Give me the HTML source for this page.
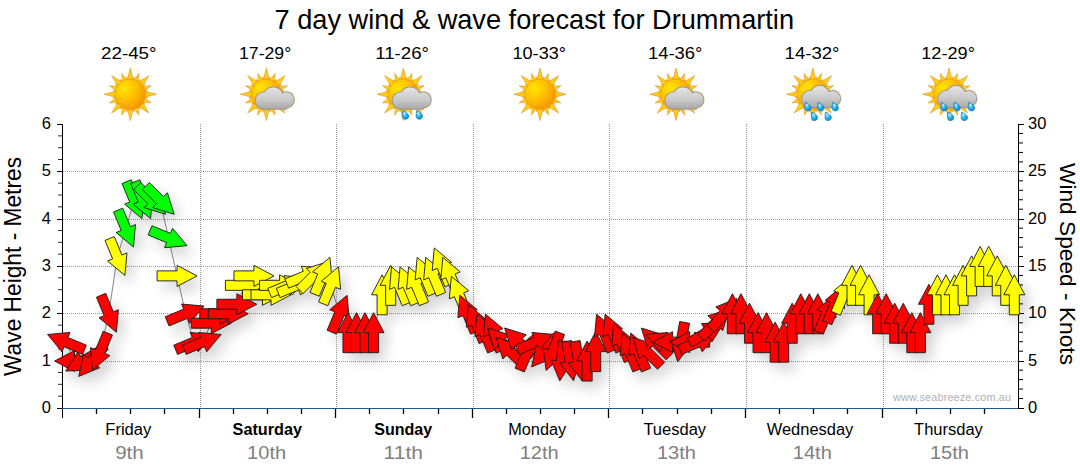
<!DOCTYPE html><html><head><meta charset="utf-8"><style>html,body{margin:0;padding:0;background:#fff;overflow:hidden}svg{display:block}text{font-family:"Liberation Sans",sans-serif}</style></head><body>
<svg width="1080" height="475" viewBox="0 0 1080 475">
<defs>
<filter id="sh" x="-10%" y="-10%" width="120%" height="120%"><feGaussianBlur in="SourceAlpha" stdDeviation="6.5"/><feOffset dx="6" dy="8" result="b"/><feComponentTransfer><feFuncA type="linear" slope="0.17"/></feComponentTransfer><feMerge><feMergeNode/><feMergeNode in="SourceGraphic"/></feMerge></filter>
<radialGradient id="sunG" cx="0.3" cy="0.3" r="0.8"><stop offset="0" stop-color="#ffe600"/><stop offset="0.5" stop-color="#ffbf00"/><stop offset="1" stop-color="#f39000"/></radialGradient>
<linearGradient id="rayG" x1="0" y1="0" x2="1" y2="1"><stop offset="0" stop-color="#ffd84a"/><stop offset="1" stop-color="#f0a020"/></linearGradient>
<linearGradient id="cloudG" x1="0" y1="0" x2="0" y2="1"><stop offset="0" stop-color="#eeeeee"/><stop offset="0.6" stop-color="#c8c8c8"/><stop offset="1" stop-color="#a8a8a8"/></linearGradient>
<radialGradient id="dropG" cx="0.35" cy="0.35" r="0.7"><stop offset="0" stop-color="#c8f4ff"/><stop offset="0.45" stop-color="#30b8f0"/><stop offset="1" stop-color="#0a8ad0"/></radialGradient>
</defs>
<text x="274.5" y="29.2" font-size="28" textLength="519.5" lengthAdjust="spacingAndGlyphs" fill="#000">7 day wind &amp; wave forecast for Drummartin</text>
<text x="101.0" y="58.9" font-size="16.5" textLength="55.6" lengthAdjust="spacingAndGlyphs" fill="#000">22-45°</text>
<text x="239.0" y="58.9" font-size="16.5" textLength="52.2" lengthAdjust="spacingAndGlyphs" fill="#000">17-29°</text>
<text x="375.2" y="58.9" font-size="16.5" textLength="53.8" lengthAdjust="spacingAndGlyphs" fill="#000">11-26°</text>
<text x="512.5" y="58.9" font-size="16.5" textLength="53.5" lengthAdjust="spacingAndGlyphs" fill="#000">10-33°</text>
<text x="647.9" y="58.9" font-size="16.5" textLength="54.5" lengthAdjust="spacingAndGlyphs" fill="#000">14-36°</text>
<text x="784.6" y="58.9" font-size="16.5" textLength="54.9" lengthAdjust="spacingAndGlyphs" fill="#000">14-32°</text>
<text x="921.3" y="58.9" font-size="16.5" textLength="53.6" lengthAdjust="spacingAndGlyphs" fill="#000">12-29°</text>
<polygon points="130.30,68.00 133.60,81.30 127.00,81.30" fill="#ffcc10" stroke="#e0941c" stroke-width="0.6" stroke-linejoin="round"/><polygon points="133.77,76.84 134.60,81.90 131.07,81.20" fill="#ffcc10" stroke="#e0941c" stroke-width="0.6" stroke-linejoin="round"/><polygon points="138.91,73.51 137.86,83.36 132.69,81.22" fill="#ffcc10" stroke="#e0941c" stroke-width="0.6" stroke-linejoin="round"/><polygon points="140.19,79.50 139.02,84.49 136.03,82.49" fill="#ffcc10" stroke="#e0941c" stroke-width="0.6" stroke-linejoin="round"/><polygon points="148.90,75.70 141.83,87.44 137.16,82.77" fill="#ffcc10" stroke="#e0941c" stroke-width="0.6" stroke-linejoin="round"/><polygon points="145.10,84.41 142.11,88.57 140.11,85.58" fill="#ffcc10" stroke="#e0941c" stroke-width="0.6" stroke-linejoin="round"/><polygon points="151.09,85.69 143.38,91.91 141.24,86.74" fill="#ffcc10" stroke="#e0941c" stroke-width="0.6" stroke-linejoin="round"/><polygon points="147.76,90.83 143.40,93.53 142.70,90.00" fill="#ffcc10" stroke="#e0941c" stroke-width="0.6" stroke-linejoin="round"/><polygon points="156.60,94.30 143.30,97.60 143.30,91.00" fill="#ffcc10" stroke="#e0941c" stroke-width="0.6" stroke-linejoin="round"/><polygon points="147.76,97.77 142.70,98.60 143.40,95.07" fill="#ffcc10" stroke="#e0941c" stroke-width="0.6" stroke-linejoin="round"/><polygon points="151.09,102.91 141.24,101.86 143.38,96.69" fill="#ffcc10" stroke="#e0941c" stroke-width="0.6" stroke-linejoin="round"/><polygon points="145.10,104.19 140.11,103.02 142.11,100.03" fill="#ffcc10" stroke="#e0941c" stroke-width="0.6" stroke-linejoin="round"/><polygon points="148.90,112.90 137.16,105.83 141.83,101.16" fill="#ffcc10" stroke="#e0941c" stroke-width="0.6" stroke-linejoin="round"/><polygon points="140.19,109.10 136.03,106.11 139.02,104.11" fill="#ffcc10" stroke="#e0941c" stroke-width="0.6" stroke-linejoin="round"/><polygon points="138.91,115.09 132.69,107.38 137.86,105.24" fill="#ffcc10" stroke="#e0941c" stroke-width="0.6" stroke-linejoin="round"/><polygon points="133.77,111.76 131.07,107.40 134.60,106.70" fill="#ffcc10" stroke="#e0941c" stroke-width="0.6" stroke-linejoin="round"/><polygon points="130.30,120.60 127.00,107.30 133.60,107.30" fill="#ffcc10" stroke="#e0941c" stroke-width="0.6" stroke-linejoin="round"/><polygon points="126.83,111.76 126.00,106.70 129.53,107.40" fill="#ffcc10" stroke="#e0941c" stroke-width="0.6" stroke-linejoin="round"/><polygon points="121.69,115.09 122.74,105.24 127.91,107.38" fill="#ffcc10" stroke="#e0941c" stroke-width="0.6" stroke-linejoin="round"/><polygon points="120.41,109.10 121.58,104.11 124.57,106.11" fill="#ffcc10" stroke="#e0941c" stroke-width="0.6" stroke-linejoin="round"/><polygon points="111.70,112.90 118.77,101.16 123.44,105.83" fill="#ffcc10" stroke="#e0941c" stroke-width="0.6" stroke-linejoin="round"/><polygon points="115.50,104.19 118.49,100.03 120.49,103.02" fill="#ffcc10" stroke="#e0941c" stroke-width="0.6" stroke-linejoin="round"/><polygon points="109.51,102.91 117.22,96.69 119.36,101.86" fill="#ffcc10" stroke="#e0941c" stroke-width="0.6" stroke-linejoin="round"/><polygon points="112.84,97.77 117.20,95.07 117.90,98.60" fill="#ffcc10" stroke="#e0941c" stroke-width="0.6" stroke-linejoin="round"/><polygon points="104.00,94.30 117.30,91.00 117.30,97.60" fill="#ffcc10" stroke="#e0941c" stroke-width="0.6" stroke-linejoin="round"/><polygon points="112.84,90.83 117.90,90.00 117.20,93.53" fill="#ffcc10" stroke="#e0941c" stroke-width="0.6" stroke-linejoin="round"/><polygon points="109.51,85.69 119.36,86.74 117.22,91.91" fill="#ffcc10" stroke="#e0941c" stroke-width="0.6" stroke-linejoin="round"/><polygon points="115.50,84.41 120.49,85.58 118.49,88.57" fill="#ffcc10" stroke="#e0941c" stroke-width="0.6" stroke-linejoin="round"/><polygon points="111.70,75.70 123.44,82.77 118.77,87.44" fill="#ffcc10" stroke="#e0941c" stroke-width="0.6" stroke-linejoin="round"/><polygon points="120.41,79.50 124.57,82.49 121.58,84.49" fill="#ffcc10" stroke="#e0941c" stroke-width="0.6" stroke-linejoin="round"/><polygon points="121.69,73.51 127.91,81.22 122.74,83.36" fill="#ffcc10" stroke="#e0941c" stroke-width="0.6" stroke-linejoin="round"/><polygon points="126.83,76.84 129.53,81.20 126.00,81.90" fill="#ffcc10" stroke="#e0941c" stroke-width="0.6" stroke-linejoin="round"/><circle cx="130.3" cy="94.3" r="15.2" fill="url(#sunG)" stroke="#e8961a" stroke-width="0.6"/>
<polygon points="266.40,68.00 269.70,81.30 263.10,81.30" fill="#ffcc10" stroke="#e0941c" stroke-width="0.6" stroke-linejoin="round"/><polygon points="269.87,76.84 270.70,81.90 267.17,81.20" fill="#ffcc10" stroke="#e0941c" stroke-width="0.6" stroke-linejoin="round"/><polygon points="275.01,73.51 273.96,83.36 268.79,81.22" fill="#ffcc10" stroke="#e0941c" stroke-width="0.6" stroke-linejoin="round"/><polygon points="276.29,79.50 275.12,84.49 272.13,82.49" fill="#ffcc10" stroke="#e0941c" stroke-width="0.6" stroke-linejoin="round"/><polygon points="285.00,75.70 277.93,87.44 273.26,82.77" fill="#ffcc10" stroke="#e0941c" stroke-width="0.6" stroke-linejoin="round"/><polygon points="281.20,84.41 278.21,88.57 276.21,85.58" fill="#ffcc10" stroke="#e0941c" stroke-width="0.6" stroke-linejoin="round"/><polygon points="287.19,85.69 279.48,91.91 277.34,86.74" fill="#ffcc10" stroke="#e0941c" stroke-width="0.6" stroke-linejoin="round"/><polygon points="283.86,90.83 279.50,93.53 278.80,90.00" fill="#ffcc10" stroke="#e0941c" stroke-width="0.6" stroke-linejoin="round"/><polygon points="292.70,94.30 279.40,97.60 279.40,91.00" fill="#ffcc10" stroke="#e0941c" stroke-width="0.6" stroke-linejoin="round"/><polygon points="283.86,97.77 278.80,98.60 279.50,95.07" fill="#ffcc10" stroke="#e0941c" stroke-width="0.6" stroke-linejoin="round"/><polygon points="287.19,102.91 277.34,101.86 279.48,96.69" fill="#ffcc10" stroke="#e0941c" stroke-width="0.6" stroke-linejoin="round"/><polygon points="281.20,104.19 276.21,103.02 278.21,100.03" fill="#ffcc10" stroke="#e0941c" stroke-width="0.6" stroke-linejoin="round"/><polygon points="285.00,112.90 273.26,105.83 277.93,101.16" fill="#ffcc10" stroke="#e0941c" stroke-width="0.6" stroke-linejoin="round"/><polygon points="276.29,109.10 272.13,106.11 275.12,104.11" fill="#ffcc10" stroke="#e0941c" stroke-width="0.6" stroke-linejoin="round"/><polygon points="275.01,115.09 268.79,107.38 273.96,105.24" fill="#ffcc10" stroke="#e0941c" stroke-width="0.6" stroke-linejoin="round"/><polygon points="269.87,111.76 267.17,107.40 270.70,106.70" fill="#ffcc10" stroke="#e0941c" stroke-width="0.6" stroke-linejoin="round"/><polygon points="266.40,120.60 263.10,107.30 269.70,107.30" fill="#ffcc10" stroke="#e0941c" stroke-width="0.6" stroke-linejoin="round"/><polygon points="262.93,111.76 262.10,106.70 265.63,107.40" fill="#ffcc10" stroke="#e0941c" stroke-width="0.6" stroke-linejoin="round"/><polygon points="257.79,115.09 258.84,105.24 264.01,107.38" fill="#ffcc10" stroke="#e0941c" stroke-width="0.6" stroke-linejoin="round"/><polygon points="256.51,109.10 257.68,104.11 260.67,106.11" fill="#ffcc10" stroke="#e0941c" stroke-width="0.6" stroke-linejoin="round"/><polygon points="247.80,112.90 254.87,101.16 259.54,105.83" fill="#ffcc10" stroke="#e0941c" stroke-width="0.6" stroke-linejoin="round"/><polygon points="251.60,104.19 254.59,100.03 256.59,103.02" fill="#ffcc10" stroke="#e0941c" stroke-width="0.6" stroke-linejoin="round"/><polygon points="245.61,102.91 253.32,96.69 255.46,101.86" fill="#ffcc10" stroke="#e0941c" stroke-width="0.6" stroke-linejoin="round"/><polygon points="248.94,97.77 253.30,95.07 254.00,98.60" fill="#ffcc10" stroke="#e0941c" stroke-width="0.6" stroke-linejoin="round"/><polygon points="240.10,94.30 253.40,91.00 253.40,97.60" fill="#ffcc10" stroke="#e0941c" stroke-width="0.6" stroke-linejoin="round"/><polygon points="248.94,90.83 254.00,90.00 253.30,93.53" fill="#ffcc10" stroke="#e0941c" stroke-width="0.6" stroke-linejoin="round"/><polygon points="245.61,85.69 255.46,86.74 253.32,91.91" fill="#ffcc10" stroke="#e0941c" stroke-width="0.6" stroke-linejoin="round"/><polygon points="251.60,84.41 256.59,85.58 254.59,88.57" fill="#ffcc10" stroke="#e0941c" stroke-width="0.6" stroke-linejoin="round"/><polygon points="247.80,75.70 259.54,82.77 254.87,87.44" fill="#ffcc10" stroke="#e0941c" stroke-width="0.6" stroke-linejoin="round"/><polygon points="256.51,79.50 260.67,82.49 257.68,84.49" fill="#ffcc10" stroke="#e0941c" stroke-width="0.6" stroke-linejoin="round"/><polygon points="257.79,73.51 264.01,81.22 258.84,83.36" fill="#ffcc10" stroke="#e0941c" stroke-width="0.6" stroke-linejoin="round"/><polygon points="262.93,76.84 265.63,81.20 262.10,81.90" fill="#ffcc10" stroke="#e0941c" stroke-width="0.6" stroke-linejoin="round"/><circle cx="266.4" cy="94.3" r="15.2" fill="url(#sunG)" stroke="#e8961a" stroke-width="0.6"/><linearGradient id="cg1" gradientUnits="userSpaceOnUse" x1="0" y1="87.3" x2="0" y2="108.8"><stop offset="0" stop-color="#e4e4e4"/><stop offset="0.55" stop-color="#cbcbcb"/><stop offset="1" stop-color="#a9a9a9"/></linearGradient><circle cx="263.9" cy="100.5" r="9.6" fill="#f0b040" opacity="0.55"/><circle cx="273.3" cy="96.9" r="11.0" fill="#f0b040" opacity="0.55"/><circle cx="286.3" cy="99.9" r="8.9" fill="#f0b040" opacity="0.55"/><rect x="263.4" y="99.3" width="24" height="10.8" fill="#f0b040" opacity="0.55"/><circle cx="263.9" cy="100.5" r="9.0" fill="#8c8c8c"/><circle cx="273.3" cy="96.9" r="10.4" fill="#8c8c8c"/><circle cx="286.3" cy="99.9" r="8.3" fill="#8c8c8c"/><rect x="263.9" y="99.3" width="23" height="10.2" fill="#8c8c8c"/><circle cx="263.9" cy="100.5" r="8.3" fill="url(#cg1)"/><circle cx="273.3" cy="96.9" r="9.7" fill="url(#cg1)"/><circle cx="286.3" cy="99.9" r="7.6" fill="url(#cg1)"/><rect x="263.9" y="99.3" width="23" height="9.5" fill="url(#cg1)"/>
<polygon points="403.30,68.00 406.60,81.30 400.00,81.30" fill="#ffcc10" stroke="#e0941c" stroke-width="0.6" stroke-linejoin="round"/><polygon points="406.77,76.84 407.60,81.90 404.07,81.20" fill="#ffcc10" stroke="#e0941c" stroke-width="0.6" stroke-linejoin="round"/><polygon points="411.91,73.51 410.86,83.36 405.69,81.22" fill="#ffcc10" stroke="#e0941c" stroke-width="0.6" stroke-linejoin="round"/><polygon points="413.19,79.50 412.02,84.49 409.03,82.49" fill="#ffcc10" stroke="#e0941c" stroke-width="0.6" stroke-linejoin="round"/><polygon points="421.90,75.70 414.83,87.44 410.16,82.77" fill="#ffcc10" stroke="#e0941c" stroke-width="0.6" stroke-linejoin="round"/><polygon points="418.10,84.41 415.11,88.57 413.11,85.58" fill="#ffcc10" stroke="#e0941c" stroke-width="0.6" stroke-linejoin="round"/><polygon points="424.09,85.69 416.38,91.91 414.24,86.74" fill="#ffcc10" stroke="#e0941c" stroke-width="0.6" stroke-linejoin="round"/><polygon points="420.76,90.83 416.40,93.53 415.70,90.00" fill="#ffcc10" stroke="#e0941c" stroke-width="0.6" stroke-linejoin="round"/><polygon points="429.60,94.30 416.30,97.60 416.30,91.00" fill="#ffcc10" stroke="#e0941c" stroke-width="0.6" stroke-linejoin="round"/><polygon points="420.76,97.77 415.70,98.60 416.40,95.07" fill="#ffcc10" stroke="#e0941c" stroke-width="0.6" stroke-linejoin="round"/><polygon points="424.09,102.91 414.24,101.86 416.38,96.69" fill="#ffcc10" stroke="#e0941c" stroke-width="0.6" stroke-linejoin="round"/><polygon points="418.10,104.19 413.11,103.02 415.11,100.03" fill="#ffcc10" stroke="#e0941c" stroke-width="0.6" stroke-linejoin="round"/><polygon points="421.90,112.90 410.16,105.83 414.83,101.16" fill="#ffcc10" stroke="#e0941c" stroke-width="0.6" stroke-linejoin="round"/><polygon points="413.19,109.10 409.03,106.11 412.02,104.11" fill="#ffcc10" stroke="#e0941c" stroke-width="0.6" stroke-linejoin="round"/><polygon points="411.91,115.09 405.69,107.38 410.86,105.24" fill="#ffcc10" stroke="#e0941c" stroke-width="0.6" stroke-linejoin="round"/><polygon points="406.77,111.76 404.07,107.40 407.60,106.70" fill="#ffcc10" stroke="#e0941c" stroke-width="0.6" stroke-linejoin="round"/><polygon points="403.30,120.60 400.00,107.30 406.60,107.30" fill="#ffcc10" stroke="#e0941c" stroke-width="0.6" stroke-linejoin="round"/><polygon points="399.83,111.76 399.00,106.70 402.53,107.40" fill="#ffcc10" stroke="#e0941c" stroke-width="0.6" stroke-linejoin="round"/><polygon points="394.69,115.09 395.74,105.24 400.91,107.38" fill="#ffcc10" stroke="#e0941c" stroke-width="0.6" stroke-linejoin="round"/><polygon points="393.41,109.10 394.58,104.11 397.57,106.11" fill="#ffcc10" stroke="#e0941c" stroke-width="0.6" stroke-linejoin="round"/><polygon points="384.70,112.90 391.77,101.16 396.44,105.83" fill="#ffcc10" stroke="#e0941c" stroke-width="0.6" stroke-linejoin="round"/><polygon points="388.50,104.19 391.49,100.03 393.49,103.02" fill="#ffcc10" stroke="#e0941c" stroke-width="0.6" stroke-linejoin="round"/><polygon points="382.51,102.91 390.22,96.69 392.36,101.86" fill="#ffcc10" stroke="#e0941c" stroke-width="0.6" stroke-linejoin="round"/><polygon points="385.84,97.77 390.20,95.07 390.90,98.60" fill="#ffcc10" stroke="#e0941c" stroke-width="0.6" stroke-linejoin="round"/><polygon points="377.00,94.30 390.30,91.00 390.30,97.60" fill="#ffcc10" stroke="#e0941c" stroke-width="0.6" stroke-linejoin="round"/><polygon points="385.84,90.83 390.90,90.00 390.20,93.53" fill="#ffcc10" stroke="#e0941c" stroke-width="0.6" stroke-linejoin="round"/><polygon points="382.51,85.69 392.36,86.74 390.22,91.91" fill="#ffcc10" stroke="#e0941c" stroke-width="0.6" stroke-linejoin="round"/><polygon points="388.50,84.41 393.49,85.58 391.49,88.57" fill="#ffcc10" stroke="#e0941c" stroke-width="0.6" stroke-linejoin="round"/><polygon points="384.70,75.70 396.44,82.77 391.77,87.44" fill="#ffcc10" stroke="#e0941c" stroke-width="0.6" stroke-linejoin="round"/><polygon points="393.41,79.50 397.57,82.49 394.58,84.49" fill="#ffcc10" stroke="#e0941c" stroke-width="0.6" stroke-linejoin="round"/><polygon points="394.69,73.51 400.91,81.22 395.74,83.36" fill="#ffcc10" stroke="#e0941c" stroke-width="0.6" stroke-linejoin="round"/><polygon points="399.83,76.84 402.53,81.20 399.00,81.90" fill="#ffcc10" stroke="#e0941c" stroke-width="0.6" stroke-linejoin="round"/><circle cx="403.3" cy="94.3" r="15.2" fill="url(#sunG)" stroke="#e8961a" stroke-width="0.6"/><linearGradient id="cg2" gradientUnits="userSpaceOnUse" x1="0" y1="87.3" x2="0" y2="108.8"><stop offset="0" stop-color="#e4e4e4"/><stop offset="0.55" stop-color="#cbcbcb"/><stop offset="1" stop-color="#a9a9a9"/></linearGradient><circle cx="400.8" cy="100.5" r="9.6" fill="#f0b040" opacity="0.55"/><circle cx="410.2" cy="96.9" r="11.0" fill="#f0b040" opacity="0.55"/><circle cx="423.2" cy="99.9" r="8.9" fill="#f0b040" opacity="0.55"/><rect x="400.3" y="99.3" width="24" height="10.8" fill="#f0b040" opacity="0.55"/><circle cx="400.8" cy="100.5" r="9.0" fill="#8c8c8c"/><circle cx="410.2" cy="96.9" r="10.4" fill="#8c8c8c"/><circle cx="423.2" cy="99.9" r="8.3" fill="#8c8c8c"/><rect x="400.8" y="99.3" width="23" height="10.2" fill="#8c8c8c"/><circle cx="400.8" cy="100.5" r="8.3" fill="url(#cg2)"/><circle cx="410.2" cy="96.9" r="9.7" fill="url(#cg2)"/><circle cx="423.2" cy="99.9" r="7.6" fill="url(#cg2)"/><rect x="400.8" y="99.3" width="23" height="9.5" fill="url(#cg2)"/><path d="M402.8,110.5 C405.1,111.2 408.8,113.7 408.8,116.2 C408.8,118.3 407.1,119.3 405.6,119.3 C403.6,119.3 402.1,117.7 402.3,115.5 Z" fill="url(#dropG)" stroke="#0a6aa0" stroke-width="0.5"/><path d="M416.5,110.5 C418.8,111.2 422.5,113.7 422.5,116.2 C422.5,118.3 420.8,119.3 419.3,119.3 C417.3,119.3 415.8,117.7 416.0,115.5 Z" fill="url(#dropG)" stroke="#0a6aa0" stroke-width="0.5"/>
<polygon points="540.00,68.00 543.30,81.30 536.70,81.30" fill="#ffcc10" stroke="#e0941c" stroke-width="0.6" stroke-linejoin="round"/><polygon points="543.47,76.84 544.30,81.90 540.77,81.20" fill="#ffcc10" stroke="#e0941c" stroke-width="0.6" stroke-linejoin="round"/><polygon points="548.61,73.51 547.56,83.36 542.39,81.22" fill="#ffcc10" stroke="#e0941c" stroke-width="0.6" stroke-linejoin="round"/><polygon points="549.89,79.50 548.72,84.49 545.73,82.49" fill="#ffcc10" stroke="#e0941c" stroke-width="0.6" stroke-linejoin="round"/><polygon points="558.60,75.70 551.53,87.44 546.86,82.77" fill="#ffcc10" stroke="#e0941c" stroke-width="0.6" stroke-linejoin="round"/><polygon points="554.80,84.41 551.81,88.57 549.81,85.58" fill="#ffcc10" stroke="#e0941c" stroke-width="0.6" stroke-linejoin="round"/><polygon points="560.79,85.69 553.08,91.91 550.94,86.74" fill="#ffcc10" stroke="#e0941c" stroke-width="0.6" stroke-linejoin="round"/><polygon points="557.46,90.83 553.10,93.53 552.40,90.00" fill="#ffcc10" stroke="#e0941c" stroke-width="0.6" stroke-linejoin="round"/><polygon points="566.30,94.30 553.00,97.60 553.00,91.00" fill="#ffcc10" stroke="#e0941c" stroke-width="0.6" stroke-linejoin="round"/><polygon points="557.46,97.77 552.40,98.60 553.10,95.07" fill="#ffcc10" stroke="#e0941c" stroke-width="0.6" stroke-linejoin="round"/><polygon points="560.79,102.91 550.94,101.86 553.08,96.69" fill="#ffcc10" stroke="#e0941c" stroke-width="0.6" stroke-linejoin="round"/><polygon points="554.80,104.19 549.81,103.02 551.81,100.03" fill="#ffcc10" stroke="#e0941c" stroke-width="0.6" stroke-linejoin="round"/><polygon points="558.60,112.90 546.86,105.83 551.53,101.16" fill="#ffcc10" stroke="#e0941c" stroke-width="0.6" stroke-linejoin="round"/><polygon points="549.89,109.10 545.73,106.11 548.72,104.11" fill="#ffcc10" stroke="#e0941c" stroke-width="0.6" stroke-linejoin="round"/><polygon points="548.61,115.09 542.39,107.38 547.56,105.24" fill="#ffcc10" stroke="#e0941c" stroke-width="0.6" stroke-linejoin="round"/><polygon points="543.47,111.76 540.77,107.40 544.30,106.70" fill="#ffcc10" stroke="#e0941c" stroke-width="0.6" stroke-linejoin="round"/><polygon points="540.00,120.60 536.70,107.30 543.30,107.30" fill="#ffcc10" stroke="#e0941c" stroke-width="0.6" stroke-linejoin="round"/><polygon points="536.53,111.76 535.70,106.70 539.23,107.40" fill="#ffcc10" stroke="#e0941c" stroke-width="0.6" stroke-linejoin="round"/><polygon points="531.39,115.09 532.44,105.24 537.61,107.38" fill="#ffcc10" stroke="#e0941c" stroke-width="0.6" stroke-linejoin="round"/><polygon points="530.11,109.10 531.28,104.11 534.27,106.11" fill="#ffcc10" stroke="#e0941c" stroke-width="0.6" stroke-linejoin="round"/><polygon points="521.40,112.90 528.47,101.16 533.14,105.83" fill="#ffcc10" stroke="#e0941c" stroke-width="0.6" stroke-linejoin="round"/><polygon points="525.20,104.19 528.19,100.03 530.19,103.02" fill="#ffcc10" stroke="#e0941c" stroke-width="0.6" stroke-linejoin="round"/><polygon points="519.21,102.91 526.92,96.69 529.06,101.86" fill="#ffcc10" stroke="#e0941c" stroke-width="0.6" stroke-linejoin="round"/><polygon points="522.54,97.77 526.90,95.07 527.60,98.60" fill="#ffcc10" stroke="#e0941c" stroke-width="0.6" stroke-linejoin="round"/><polygon points="513.70,94.30 527.00,91.00 527.00,97.60" fill="#ffcc10" stroke="#e0941c" stroke-width="0.6" stroke-linejoin="round"/><polygon points="522.54,90.83 527.60,90.00 526.90,93.53" fill="#ffcc10" stroke="#e0941c" stroke-width="0.6" stroke-linejoin="round"/><polygon points="519.21,85.69 529.06,86.74 526.92,91.91" fill="#ffcc10" stroke="#e0941c" stroke-width="0.6" stroke-linejoin="round"/><polygon points="525.20,84.41 530.19,85.58 528.19,88.57" fill="#ffcc10" stroke="#e0941c" stroke-width="0.6" stroke-linejoin="round"/><polygon points="521.40,75.70 533.14,82.77 528.47,87.44" fill="#ffcc10" stroke="#e0941c" stroke-width="0.6" stroke-linejoin="round"/><polygon points="530.11,79.50 534.27,82.49 531.28,84.49" fill="#ffcc10" stroke="#e0941c" stroke-width="0.6" stroke-linejoin="round"/><polygon points="531.39,73.51 537.61,81.22 532.44,83.36" fill="#ffcc10" stroke="#e0941c" stroke-width="0.6" stroke-linejoin="round"/><polygon points="536.53,76.84 539.23,81.20 535.70,81.90" fill="#ffcc10" stroke="#e0941c" stroke-width="0.6" stroke-linejoin="round"/><circle cx="540.0" cy="94.3" r="15.2" fill="url(#sunG)" stroke="#e8961a" stroke-width="0.6"/>
<polygon points="676.00,68.00 679.30,81.30 672.70,81.30" fill="#ffcc10" stroke="#e0941c" stroke-width="0.6" stroke-linejoin="round"/><polygon points="679.47,76.84 680.30,81.90 676.77,81.20" fill="#ffcc10" stroke="#e0941c" stroke-width="0.6" stroke-linejoin="round"/><polygon points="684.61,73.51 683.56,83.36 678.39,81.22" fill="#ffcc10" stroke="#e0941c" stroke-width="0.6" stroke-linejoin="round"/><polygon points="685.89,79.50 684.72,84.49 681.73,82.49" fill="#ffcc10" stroke="#e0941c" stroke-width="0.6" stroke-linejoin="round"/><polygon points="694.60,75.70 687.53,87.44 682.86,82.77" fill="#ffcc10" stroke="#e0941c" stroke-width="0.6" stroke-linejoin="round"/><polygon points="690.80,84.41 687.81,88.57 685.81,85.58" fill="#ffcc10" stroke="#e0941c" stroke-width="0.6" stroke-linejoin="round"/><polygon points="696.79,85.69 689.08,91.91 686.94,86.74" fill="#ffcc10" stroke="#e0941c" stroke-width="0.6" stroke-linejoin="round"/><polygon points="693.46,90.83 689.10,93.53 688.40,90.00" fill="#ffcc10" stroke="#e0941c" stroke-width="0.6" stroke-linejoin="round"/><polygon points="702.30,94.30 689.00,97.60 689.00,91.00" fill="#ffcc10" stroke="#e0941c" stroke-width="0.6" stroke-linejoin="round"/><polygon points="693.46,97.77 688.40,98.60 689.10,95.07" fill="#ffcc10" stroke="#e0941c" stroke-width="0.6" stroke-linejoin="round"/><polygon points="696.79,102.91 686.94,101.86 689.08,96.69" fill="#ffcc10" stroke="#e0941c" stroke-width="0.6" stroke-linejoin="round"/><polygon points="690.80,104.19 685.81,103.02 687.81,100.03" fill="#ffcc10" stroke="#e0941c" stroke-width="0.6" stroke-linejoin="round"/><polygon points="694.60,112.90 682.86,105.83 687.53,101.16" fill="#ffcc10" stroke="#e0941c" stroke-width="0.6" stroke-linejoin="round"/><polygon points="685.89,109.10 681.73,106.11 684.72,104.11" fill="#ffcc10" stroke="#e0941c" stroke-width="0.6" stroke-linejoin="round"/><polygon points="684.61,115.09 678.39,107.38 683.56,105.24" fill="#ffcc10" stroke="#e0941c" stroke-width="0.6" stroke-linejoin="round"/><polygon points="679.47,111.76 676.77,107.40 680.30,106.70" fill="#ffcc10" stroke="#e0941c" stroke-width="0.6" stroke-linejoin="round"/><polygon points="676.00,120.60 672.70,107.30 679.30,107.30" fill="#ffcc10" stroke="#e0941c" stroke-width="0.6" stroke-linejoin="round"/><polygon points="672.53,111.76 671.70,106.70 675.23,107.40" fill="#ffcc10" stroke="#e0941c" stroke-width="0.6" stroke-linejoin="round"/><polygon points="667.39,115.09 668.44,105.24 673.61,107.38" fill="#ffcc10" stroke="#e0941c" stroke-width="0.6" stroke-linejoin="round"/><polygon points="666.11,109.10 667.28,104.11 670.27,106.11" fill="#ffcc10" stroke="#e0941c" stroke-width="0.6" stroke-linejoin="round"/><polygon points="657.40,112.90 664.47,101.16 669.14,105.83" fill="#ffcc10" stroke="#e0941c" stroke-width="0.6" stroke-linejoin="round"/><polygon points="661.20,104.19 664.19,100.03 666.19,103.02" fill="#ffcc10" stroke="#e0941c" stroke-width="0.6" stroke-linejoin="round"/><polygon points="655.21,102.91 662.92,96.69 665.06,101.86" fill="#ffcc10" stroke="#e0941c" stroke-width="0.6" stroke-linejoin="round"/><polygon points="658.54,97.77 662.90,95.07 663.60,98.60" fill="#ffcc10" stroke="#e0941c" stroke-width="0.6" stroke-linejoin="round"/><polygon points="649.70,94.30 663.00,91.00 663.00,97.60" fill="#ffcc10" stroke="#e0941c" stroke-width="0.6" stroke-linejoin="round"/><polygon points="658.54,90.83 663.60,90.00 662.90,93.53" fill="#ffcc10" stroke="#e0941c" stroke-width="0.6" stroke-linejoin="round"/><polygon points="655.21,85.69 665.06,86.74 662.92,91.91" fill="#ffcc10" stroke="#e0941c" stroke-width="0.6" stroke-linejoin="round"/><polygon points="661.20,84.41 666.19,85.58 664.19,88.57" fill="#ffcc10" stroke="#e0941c" stroke-width="0.6" stroke-linejoin="round"/><polygon points="657.40,75.70 669.14,82.77 664.47,87.44" fill="#ffcc10" stroke="#e0941c" stroke-width="0.6" stroke-linejoin="round"/><polygon points="666.11,79.50 670.27,82.49 667.28,84.49" fill="#ffcc10" stroke="#e0941c" stroke-width="0.6" stroke-linejoin="round"/><polygon points="667.39,73.51 673.61,81.22 668.44,83.36" fill="#ffcc10" stroke="#e0941c" stroke-width="0.6" stroke-linejoin="round"/><polygon points="672.53,76.84 675.23,81.20 671.70,81.90" fill="#ffcc10" stroke="#e0941c" stroke-width="0.6" stroke-linejoin="round"/><circle cx="676.0" cy="94.3" r="15.2" fill="url(#sunG)" stroke="#e8961a" stroke-width="0.6"/><linearGradient id="cg3" gradientUnits="userSpaceOnUse" x1="0" y1="87.3" x2="0" y2="108.8"><stop offset="0" stop-color="#e4e4e4"/><stop offset="0.55" stop-color="#cbcbcb"/><stop offset="1" stop-color="#a9a9a9"/></linearGradient><circle cx="673.5" cy="100.5" r="9.6" fill="#f0b040" opacity="0.55"/><circle cx="682.9" cy="96.9" r="11.0" fill="#f0b040" opacity="0.55"/><circle cx="695.9" cy="99.9" r="8.9" fill="#f0b040" opacity="0.55"/><rect x="673.0" y="99.3" width="24" height="10.8" fill="#f0b040" opacity="0.55"/><circle cx="673.5" cy="100.5" r="9.0" fill="#8c8c8c"/><circle cx="682.9" cy="96.9" r="10.4" fill="#8c8c8c"/><circle cx="695.9" cy="99.9" r="8.3" fill="#8c8c8c"/><rect x="673.5" y="99.3" width="23" height="10.2" fill="#8c8c8c"/><circle cx="673.5" cy="100.5" r="8.3" fill="url(#cg3)"/><circle cx="682.9" cy="96.9" r="9.7" fill="url(#cg3)"/><circle cx="695.9" cy="99.9" r="7.6" fill="url(#cg3)"/><rect x="673.5" y="99.3" width="23" height="9.5" fill="url(#cg3)"/>
<polygon points="812.80,68.00 816.10,81.30 809.50,81.30" fill="#ffcc10" stroke="#e0941c" stroke-width="0.6" stroke-linejoin="round"/><polygon points="816.27,76.84 817.10,81.90 813.57,81.20" fill="#ffcc10" stroke="#e0941c" stroke-width="0.6" stroke-linejoin="round"/><polygon points="821.41,73.51 820.36,83.36 815.19,81.22" fill="#ffcc10" stroke="#e0941c" stroke-width="0.6" stroke-linejoin="round"/><polygon points="822.69,79.50 821.52,84.49 818.53,82.49" fill="#ffcc10" stroke="#e0941c" stroke-width="0.6" stroke-linejoin="round"/><polygon points="831.40,75.70 824.33,87.44 819.66,82.77" fill="#ffcc10" stroke="#e0941c" stroke-width="0.6" stroke-linejoin="round"/><polygon points="827.60,84.41 824.61,88.57 822.61,85.58" fill="#ffcc10" stroke="#e0941c" stroke-width="0.6" stroke-linejoin="round"/><polygon points="833.59,85.69 825.88,91.91 823.74,86.74" fill="#ffcc10" stroke="#e0941c" stroke-width="0.6" stroke-linejoin="round"/><polygon points="830.26,90.83 825.90,93.53 825.20,90.00" fill="#ffcc10" stroke="#e0941c" stroke-width="0.6" stroke-linejoin="round"/><polygon points="839.10,94.30 825.80,97.60 825.80,91.00" fill="#ffcc10" stroke="#e0941c" stroke-width="0.6" stroke-linejoin="round"/><polygon points="830.26,97.77 825.20,98.60 825.90,95.07" fill="#ffcc10" stroke="#e0941c" stroke-width="0.6" stroke-linejoin="round"/><polygon points="833.59,102.91 823.74,101.86 825.88,96.69" fill="#ffcc10" stroke="#e0941c" stroke-width="0.6" stroke-linejoin="round"/><polygon points="827.60,104.19 822.61,103.02 824.61,100.03" fill="#ffcc10" stroke="#e0941c" stroke-width="0.6" stroke-linejoin="round"/><polygon points="831.40,112.90 819.66,105.83 824.33,101.16" fill="#ffcc10" stroke="#e0941c" stroke-width="0.6" stroke-linejoin="round"/><polygon points="822.69,109.10 818.53,106.11 821.52,104.11" fill="#ffcc10" stroke="#e0941c" stroke-width="0.6" stroke-linejoin="round"/><polygon points="821.41,115.09 815.19,107.38 820.36,105.24" fill="#ffcc10" stroke="#e0941c" stroke-width="0.6" stroke-linejoin="round"/><polygon points="816.27,111.76 813.57,107.40 817.10,106.70" fill="#ffcc10" stroke="#e0941c" stroke-width="0.6" stroke-linejoin="round"/><polygon points="812.80,120.60 809.50,107.30 816.10,107.30" fill="#ffcc10" stroke="#e0941c" stroke-width="0.6" stroke-linejoin="round"/><polygon points="809.33,111.76 808.50,106.70 812.03,107.40" fill="#ffcc10" stroke="#e0941c" stroke-width="0.6" stroke-linejoin="round"/><polygon points="804.19,115.09 805.24,105.24 810.41,107.38" fill="#ffcc10" stroke="#e0941c" stroke-width="0.6" stroke-linejoin="round"/><polygon points="802.91,109.10 804.08,104.11 807.07,106.11" fill="#ffcc10" stroke="#e0941c" stroke-width="0.6" stroke-linejoin="round"/><polygon points="794.20,112.90 801.27,101.16 805.94,105.83" fill="#ffcc10" stroke="#e0941c" stroke-width="0.6" stroke-linejoin="round"/><polygon points="798.00,104.19 800.99,100.03 802.99,103.02" fill="#ffcc10" stroke="#e0941c" stroke-width="0.6" stroke-linejoin="round"/><polygon points="792.01,102.91 799.72,96.69 801.86,101.86" fill="#ffcc10" stroke="#e0941c" stroke-width="0.6" stroke-linejoin="round"/><polygon points="795.34,97.77 799.70,95.07 800.40,98.60" fill="#ffcc10" stroke="#e0941c" stroke-width="0.6" stroke-linejoin="round"/><polygon points="786.50,94.30 799.80,91.00 799.80,97.60" fill="#ffcc10" stroke="#e0941c" stroke-width="0.6" stroke-linejoin="round"/><polygon points="795.34,90.83 800.40,90.00 799.70,93.53" fill="#ffcc10" stroke="#e0941c" stroke-width="0.6" stroke-linejoin="round"/><polygon points="792.01,85.69 801.86,86.74 799.72,91.91" fill="#ffcc10" stroke="#e0941c" stroke-width="0.6" stroke-linejoin="round"/><polygon points="798.00,84.41 802.99,85.58 800.99,88.57" fill="#ffcc10" stroke="#e0941c" stroke-width="0.6" stroke-linejoin="round"/><polygon points="794.20,75.70 805.94,82.77 801.27,87.44" fill="#ffcc10" stroke="#e0941c" stroke-width="0.6" stroke-linejoin="round"/><polygon points="802.91,79.50 807.07,82.49 804.08,84.49" fill="#ffcc10" stroke="#e0941c" stroke-width="0.6" stroke-linejoin="round"/><polygon points="804.19,73.51 810.41,81.22 805.24,83.36" fill="#ffcc10" stroke="#e0941c" stroke-width="0.6" stroke-linejoin="round"/><polygon points="809.33,76.84 812.03,81.20 808.50,81.90" fill="#ffcc10" stroke="#e0941c" stroke-width="0.6" stroke-linejoin="round"/><circle cx="812.8" cy="94.3" r="15.2" fill="url(#sunG)" stroke="#e8961a" stroke-width="0.6"/><linearGradient id="cg4" gradientUnits="userSpaceOnUse" x1="0" y1="85.9" x2="0" y2="107.4"><stop offset="0" stop-color="#e4e4e4"/><stop offset="0.55" stop-color="#cbcbcb"/><stop offset="1" stop-color="#a9a9a9"/></linearGradient><circle cx="810.3" cy="99.1" r="9.6" fill="#f0b040" opacity="0.55"/><circle cx="819.7" cy="95.5" r="11.0" fill="#f0b040" opacity="0.55"/><circle cx="832.7" cy="98.5" r="8.9" fill="#f0b040" opacity="0.55"/><rect x="809.8" y="97.9" width="24" height="10.8" fill="#f0b040" opacity="0.55"/><circle cx="810.3" cy="99.1" r="9.0" fill="#8c8c8c"/><circle cx="819.7" cy="95.5" r="10.4" fill="#8c8c8c"/><circle cx="832.7" cy="98.5" r="8.3" fill="#8c8c8c"/><rect x="810.3" y="97.9" width="23" height="10.2" fill="#8c8c8c"/><circle cx="810.3" cy="99.1" r="8.3" fill="url(#cg4)"/><circle cx="819.7" cy="95.5" r="9.7" fill="url(#cg4)"/><circle cx="832.7" cy="98.5" r="7.6" fill="url(#cg4)"/><rect x="810.3" y="97.9" width="23" height="9.5" fill="url(#cg4)"/><path d="M805.1,102.2 C807.4,102.9 811.1,105.4 811.1,107.9 C811.1,110.0 809.4,111.0 807.9,111.0 C805.9,111.0 804.4,109.4 804.6,107.2 Z" fill="url(#dropG)" stroke="#0a6aa0" stroke-width="0.5"/><path d="M818.0,102.2 C820.3,102.9 824.0,105.4 824.0,107.9 C824.0,110.0 822.3,111.0 820.8,111.0 C818.8,111.0 817.3,109.4 817.5,107.2 Z" fill="url(#dropG)" stroke="#0a6aa0" stroke-width="0.5"/><path d="M832.5,102.2 C834.8,102.9 838.5,105.4 838.5,107.9 C838.5,110.0 836.8,111.0 835.3,111.0 C833.3,111.0 831.8,109.4 832.0,107.2 Z" fill="url(#dropG)" stroke="#0a6aa0" stroke-width="0.5"/><path d="M811.7,111.89999999999999 C814.0,112.6 817.7,115.1 817.7,117.6 C817.7,119.69999999999999 816.0,120.69999999999999 814.5,120.69999999999999 C812.5,120.69999999999999 811.0,119.1 811.2,116.89999999999999 Z" fill="url(#dropG)" stroke="#0a6aa0" stroke-width="0.5"/><path d="M825.4,111.89999999999999 C827.6999999999999,112.6 831.4,115.1 831.4,117.6 C831.4,119.69999999999999 829.6999999999999,120.69999999999999 828.1999999999999,120.69999999999999 C826.1999999999999,120.69999999999999 824.6999999999999,119.1 824.9,116.89999999999999 Z" fill="url(#dropG)" stroke="#0a6aa0" stroke-width="0.5"/>
<polygon points="949.00,68.00 952.30,81.30 945.70,81.30" fill="#ffcc10" stroke="#e0941c" stroke-width="0.6" stroke-linejoin="round"/><polygon points="952.47,76.84 953.30,81.90 949.77,81.20" fill="#ffcc10" stroke="#e0941c" stroke-width="0.6" stroke-linejoin="round"/><polygon points="957.61,73.51 956.56,83.36 951.39,81.22" fill="#ffcc10" stroke="#e0941c" stroke-width="0.6" stroke-linejoin="round"/><polygon points="958.89,79.50 957.72,84.49 954.73,82.49" fill="#ffcc10" stroke="#e0941c" stroke-width="0.6" stroke-linejoin="round"/><polygon points="967.60,75.70 960.53,87.44 955.86,82.77" fill="#ffcc10" stroke="#e0941c" stroke-width="0.6" stroke-linejoin="round"/><polygon points="963.80,84.41 960.81,88.57 958.81,85.58" fill="#ffcc10" stroke="#e0941c" stroke-width="0.6" stroke-linejoin="round"/><polygon points="969.79,85.69 962.08,91.91 959.94,86.74" fill="#ffcc10" stroke="#e0941c" stroke-width="0.6" stroke-linejoin="round"/><polygon points="966.46,90.83 962.10,93.53 961.40,90.00" fill="#ffcc10" stroke="#e0941c" stroke-width="0.6" stroke-linejoin="round"/><polygon points="975.30,94.30 962.00,97.60 962.00,91.00" fill="#ffcc10" stroke="#e0941c" stroke-width="0.6" stroke-linejoin="round"/><polygon points="966.46,97.77 961.40,98.60 962.10,95.07" fill="#ffcc10" stroke="#e0941c" stroke-width="0.6" stroke-linejoin="round"/><polygon points="969.79,102.91 959.94,101.86 962.08,96.69" fill="#ffcc10" stroke="#e0941c" stroke-width="0.6" stroke-linejoin="round"/><polygon points="963.80,104.19 958.81,103.02 960.81,100.03" fill="#ffcc10" stroke="#e0941c" stroke-width="0.6" stroke-linejoin="round"/><polygon points="967.60,112.90 955.86,105.83 960.53,101.16" fill="#ffcc10" stroke="#e0941c" stroke-width="0.6" stroke-linejoin="round"/><polygon points="958.89,109.10 954.73,106.11 957.72,104.11" fill="#ffcc10" stroke="#e0941c" stroke-width="0.6" stroke-linejoin="round"/><polygon points="957.61,115.09 951.39,107.38 956.56,105.24" fill="#ffcc10" stroke="#e0941c" stroke-width="0.6" stroke-linejoin="round"/><polygon points="952.47,111.76 949.77,107.40 953.30,106.70" fill="#ffcc10" stroke="#e0941c" stroke-width="0.6" stroke-linejoin="round"/><polygon points="949.00,120.60 945.70,107.30 952.30,107.30" fill="#ffcc10" stroke="#e0941c" stroke-width="0.6" stroke-linejoin="round"/><polygon points="945.53,111.76 944.70,106.70 948.23,107.40" fill="#ffcc10" stroke="#e0941c" stroke-width="0.6" stroke-linejoin="round"/><polygon points="940.39,115.09 941.44,105.24 946.61,107.38" fill="#ffcc10" stroke="#e0941c" stroke-width="0.6" stroke-linejoin="round"/><polygon points="939.11,109.10 940.28,104.11 943.27,106.11" fill="#ffcc10" stroke="#e0941c" stroke-width="0.6" stroke-linejoin="round"/><polygon points="930.40,112.90 937.47,101.16 942.14,105.83" fill="#ffcc10" stroke="#e0941c" stroke-width="0.6" stroke-linejoin="round"/><polygon points="934.20,104.19 937.19,100.03 939.19,103.02" fill="#ffcc10" stroke="#e0941c" stroke-width="0.6" stroke-linejoin="round"/><polygon points="928.21,102.91 935.92,96.69 938.06,101.86" fill="#ffcc10" stroke="#e0941c" stroke-width="0.6" stroke-linejoin="round"/><polygon points="931.54,97.77 935.90,95.07 936.60,98.60" fill="#ffcc10" stroke="#e0941c" stroke-width="0.6" stroke-linejoin="round"/><polygon points="922.70,94.30 936.00,91.00 936.00,97.60" fill="#ffcc10" stroke="#e0941c" stroke-width="0.6" stroke-linejoin="round"/><polygon points="931.54,90.83 936.60,90.00 935.90,93.53" fill="#ffcc10" stroke="#e0941c" stroke-width="0.6" stroke-linejoin="round"/><polygon points="928.21,85.69 938.06,86.74 935.92,91.91" fill="#ffcc10" stroke="#e0941c" stroke-width="0.6" stroke-linejoin="round"/><polygon points="934.20,84.41 939.19,85.58 937.19,88.57" fill="#ffcc10" stroke="#e0941c" stroke-width="0.6" stroke-linejoin="round"/><polygon points="930.40,75.70 942.14,82.77 937.47,87.44" fill="#ffcc10" stroke="#e0941c" stroke-width="0.6" stroke-linejoin="round"/><polygon points="939.11,79.50 943.27,82.49 940.28,84.49" fill="#ffcc10" stroke="#e0941c" stroke-width="0.6" stroke-linejoin="round"/><polygon points="940.39,73.51 946.61,81.22 941.44,83.36" fill="#ffcc10" stroke="#e0941c" stroke-width="0.6" stroke-linejoin="round"/><polygon points="945.53,76.84 948.23,81.20 944.70,81.90" fill="#ffcc10" stroke="#e0941c" stroke-width="0.6" stroke-linejoin="round"/><circle cx="949.0" cy="94.3" r="15.2" fill="url(#sunG)" stroke="#e8961a" stroke-width="0.6"/><linearGradient id="cg5" gradientUnits="userSpaceOnUse" x1="0" y1="85.9" x2="0" y2="107.4"><stop offset="0" stop-color="#e4e4e4"/><stop offset="0.55" stop-color="#cbcbcb"/><stop offset="1" stop-color="#a9a9a9"/></linearGradient><circle cx="946.5" cy="99.1" r="9.6" fill="#f0b040" opacity="0.55"/><circle cx="955.9" cy="95.5" r="11.0" fill="#f0b040" opacity="0.55"/><circle cx="968.9" cy="98.5" r="8.9" fill="#f0b040" opacity="0.55"/><rect x="946.0" y="97.9" width="24" height="10.8" fill="#f0b040" opacity="0.55"/><circle cx="946.5" cy="99.1" r="9.0" fill="#8c8c8c"/><circle cx="955.9" cy="95.5" r="10.4" fill="#8c8c8c"/><circle cx="968.9" cy="98.5" r="8.3" fill="#8c8c8c"/><rect x="946.5" y="97.9" width="23" height="10.2" fill="#8c8c8c"/><circle cx="946.5" cy="99.1" r="8.3" fill="url(#cg5)"/><circle cx="955.9" cy="95.5" r="9.7" fill="url(#cg5)"/><circle cx="968.9" cy="98.5" r="7.6" fill="url(#cg5)"/><rect x="946.5" y="97.9" width="23" height="9.5" fill="url(#cg5)"/><path d="M941.3000000000001,102.2 C943.6,102.9 947.3000000000001,105.4 947.3000000000001,107.9 C947.3000000000001,110.0 945.6,111.0 944.1,111.0 C942.1,111.0 940.6,109.4 940.8000000000001,107.2 Z" fill="url(#dropG)" stroke="#0a6aa0" stroke-width="0.5"/><path d="M954.2,102.2 C956.5,102.9 960.2,105.4 960.2,107.9 C960.2,110.0 958.5,111.0 957.0,111.0 C955.0,111.0 953.5,109.4 953.7,107.2 Z" fill="url(#dropG)" stroke="#0a6aa0" stroke-width="0.5"/><path d="M968.7,102.2 C971.0,102.9 974.7,105.4 974.7,107.9 C974.7,110.0 973.0,111.0 971.5,111.0 C969.5,111.0 968.0,109.4 968.2,107.2 Z" fill="url(#dropG)" stroke="#0a6aa0" stroke-width="0.5"/><path d="M947.9000000000001,111.89999999999999 C950.2,112.6 953.9000000000001,115.1 953.9000000000001,117.6 C953.9000000000001,119.69999999999999 952.2,120.69999999999999 950.7,120.69999999999999 C948.7,120.69999999999999 947.2,119.1 947.4000000000001,116.89999999999999 Z" fill="url(#dropG)" stroke="#0a6aa0" stroke-width="0.5"/><path d="M961.6,111.89999999999999 C963.9,112.6 967.6,115.1 967.6,117.6 C967.6,119.69999999999999 965.9,120.69999999999999 964.4,120.69999999999999 C962.4,120.69999999999999 960.9,119.1 961.1,116.89999999999999 Z" fill="url(#dropG)" stroke="#0a6aa0" stroke-width="0.5"/>
<line x1="63" y1="361.5" x2="1018" y2="361.5" stroke="#999" stroke-width="1" stroke-dasharray="1,1"/>
<line x1="63" y1="313.5" x2="1018" y2="313.5" stroke="#999" stroke-width="1" stroke-dasharray="1,1"/>
<line x1="63" y1="266.5" x2="1018" y2="266.5" stroke="#999" stroke-width="1" stroke-dasharray="1,1"/>
<line x1="63" y1="219.5" x2="1018" y2="219.5" stroke="#999" stroke-width="1" stroke-dasharray="1,1"/>
<line x1="63" y1="171.5" x2="1018" y2="171.5" stroke="#999" stroke-width="1" stroke-dasharray="1,1"/>
<line x1="200.5" y1="124" x2="200.5" y2="408" stroke="#999" stroke-width="1" stroke-dasharray="1,1"/>
<line x1="336.5" y1="124" x2="336.5" y2="408" stroke="#999" stroke-width="1" stroke-dasharray="1,1"/>
<line x1="473.5" y1="124" x2="473.5" y2="408" stroke="#999" stroke-width="1" stroke-dasharray="1,1"/>
<line x1="609.5" y1="124" x2="609.5" y2="408" stroke="#999" stroke-width="1" stroke-dasharray="1,1"/>
<line x1="746.5" y1="124" x2="746.5" y2="408" stroke="#999" stroke-width="1" stroke-dasharray="1,1"/>
<line x1="883.5" y1="124" x2="883.5" y2="408" stroke="#999" stroke-width="1" stroke-dasharray="1,1"/>
<line x1="62.5" y1="124" x2="62.5" y2="418" stroke="#000" stroke-width="1"/>
<line x1="1018.5" y1="124" x2="1018.5" y2="409" stroke="#000" stroke-width="1"/>
<line x1="57" y1="408.5" x2="62" y2="408.5" stroke="#000" stroke-width="1"/>
<text x="51" y="412.5" font-size="16.5" text-anchor="end" fill="#000">0</text>
<line x1="57" y1="361.5" x2="62" y2="361.5" stroke="#000" stroke-width="1"/>
<text x="51" y="365.5" font-size="16.5" text-anchor="end" fill="#000">1</text>
<line x1="57" y1="313.5" x2="62" y2="313.5" stroke="#000" stroke-width="1"/>
<text x="51" y="317.5" font-size="16.5" text-anchor="end" fill="#000">2</text>
<line x1="57" y1="266.5" x2="62" y2="266.5" stroke="#000" stroke-width="1"/>
<text x="51" y="270.5" font-size="16.5" text-anchor="end" fill="#000">3</text>
<line x1="57" y1="219.5" x2="62" y2="219.5" stroke="#000" stroke-width="1"/>
<text x="51" y="223.5" font-size="16.5" text-anchor="end" fill="#000">4</text>
<line x1="57" y1="171.5" x2="62" y2="171.5" stroke="#000" stroke-width="1"/>
<text x="51" y="175.5" font-size="16.5" text-anchor="end" fill="#000">5</text>
<line x1="57" y1="124.5" x2="62" y2="124.5" stroke="#000" stroke-width="1"/>
<text x="51" y="128.5" font-size="16.5" text-anchor="end" fill="#000">6</text>
<line x1="58" y1="396.1675" x2="62" y2="396.1675" stroke="#333" stroke-width="1"/>
<line x1="58" y1="384.335" x2="62" y2="384.335" stroke="#333" stroke-width="1"/>
<line x1="58" y1="372.5025" x2="62" y2="372.5025" stroke="#333" stroke-width="1"/>
<line x1="58" y1="348.8375" x2="62" y2="348.8375" stroke="#333" stroke-width="1"/>
<line x1="58" y1="337.005" x2="62" y2="337.005" stroke="#333" stroke-width="1"/>
<line x1="58" y1="325.1725" x2="62" y2="325.1725" stroke="#333" stroke-width="1"/>
<line x1="58" y1="301.5075" x2="62" y2="301.5075" stroke="#333" stroke-width="1"/>
<line x1="58" y1="289.675" x2="62" y2="289.675" stroke="#333" stroke-width="1"/>
<line x1="58" y1="277.8425" x2="62" y2="277.8425" stroke="#333" stroke-width="1"/>
<line x1="58" y1="254.1775" x2="62" y2="254.1775" stroke="#333" stroke-width="1"/>
<line x1="58" y1="242.345" x2="62" y2="242.345" stroke="#333" stroke-width="1"/>
<line x1="58" y1="230.51250000000002" x2="62" y2="230.51250000000002" stroke="#333" stroke-width="1"/>
<line x1="58" y1="206.8475" x2="62" y2="206.8475" stroke="#333" stroke-width="1"/>
<line x1="58" y1="195.01500000000001" x2="62" y2="195.01500000000001" stroke="#333" stroke-width="1"/>
<line x1="58" y1="183.1825" x2="62" y2="183.1825" stroke="#333" stroke-width="1"/>
<line x1="58" y1="159.5175" x2="62" y2="159.5175" stroke="#333" stroke-width="1"/>
<line x1="58" y1="147.685" x2="62" y2="147.685" stroke="#333" stroke-width="1"/>
<line x1="58" y1="135.85250000000002" x2="62" y2="135.85250000000002" stroke="#333" stroke-width="1"/>
<line x1="1019" y1="408.5" x2="1024" y2="408.5" stroke="#000" stroke-width="1"/>
<text x="1028" y="412.5" font-size="16.5" fill="#000">0</text>
<line x1="1019" y1="398.534" x2="1023" y2="398.534" stroke="#000" stroke-width="1"/>
<line x1="1019" y1="389.068" x2="1023" y2="389.068" stroke="#000" stroke-width="1"/>
<line x1="1019" y1="379.602" x2="1023" y2="379.602" stroke="#000" stroke-width="1"/>
<line x1="1019" y1="370.136" x2="1023" y2="370.136" stroke="#000" stroke-width="1"/>
<line x1="1019" y1="361.5" x2="1024" y2="361.5" stroke="#000" stroke-width="1"/>
<text x="1028" y="365.5" font-size="16.5" fill="#000">5</text>
<line x1="1019" y1="351.204" x2="1023" y2="351.204" stroke="#000" stroke-width="1"/>
<line x1="1019" y1="341.738" x2="1023" y2="341.738" stroke="#000" stroke-width="1"/>
<line x1="1019" y1="332.272" x2="1023" y2="332.272" stroke="#000" stroke-width="1"/>
<line x1="1019" y1="322.80600000000004" x2="1023" y2="322.80600000000004" stroke="#000" stroke-width="1"/>
<line x1="1019" y1="313.5" x2="1024" y2="313.5" stroke="#000" stroke-width="1"/>
<text x="1028" y="317.5" font-size="16.5" fill="#000">10</text>
<line x1="1019" y1="303.874" x2="1023" y2="303.874" stroke="#000" stroke-width="1"/>
<line x1="1019" y1="294.408" x2="1023" y2="294.408" stroke="#000" stroke-width="1"/>
<line x1="1019" y1="284.942" x2="1023" y2="284.942" stroke="#000" stroke-width="1"/>
<line x1="1019" y1="275.476" x2="1023" y2="275.476" stroke="#000" stroke-width="1"/>
<line x1="1019" y1="266.5" x2="1024" y2="266.5" stroke="#000" stroke-width="1"/>
<text x="1028" y="270.5" font-size="16.5" fill="#000">15</text>
<line x1="1019" y1="256.544" x2="1023" y2="256.544" stroke="#000" stroke-width="1"/>
<line x1="1019" y1="247.078" x2="1023" y2="247.078" stroke="#000" stroke-width="1"/>
<line x1="1019" y1="237.61200000000002" x2="1023" y2="237.61200000000002" stroke="#000" stroke-width="1"/>
<line x1="1019" y1="228.14600000000002" x2="1023" y2="228.14600000000002" stroke="#000" stroke-width="1"/>
<line x1="1019" y1="219.5" x2="1024" y2="219.5" stroke="#000" stroke-width="1"/>
<text x="1028" y="223.5" font-size="16.5" fill="#000">20</text>
<line x1="1019" y1="209.21400000000003" x2="1023" y2="209.21400000000003" stroke="#000" stroke-width="1"/>
<line x1="1019" y1="199.74800000000002" x2="1023" y2="199.74800000000002" stroke="#000" stroke-width="1"/>
<line x1="1019" y1="190.282" x2="1023" y2="190.282" stroke="#000" stroke-width="1"/>
<line x1="1019" y1="180.81600000000003" x2="1023" y2="180.81600000000003" stroke="#000" stroke-width="1"/>
<line x1="1019" y1="171.5" x2="1024" y2="171.5" stroke="#000" stroke-width="1"/>
<text x="1028" y="175.5" font-size="16.5" fill="#000">25</text>
<line x1="1019" y1="161.88400000000001" x2="1023" y2="161.88400000000001" stroke="#000" stroke-width="1"/>
<line x1="1019" y1="152.418" x2="1023" y2="152.418" stroke="#000" stroke-width="1"/>
<line x1="1019" y1="142.952" x2="1023" y2="142.952" stroke="#000" stroke-width="1"/>
<line x1="1019" y1="133.48600000000005" x2="1023" y2="133.48600000000005" stroke="#000" stroke-width="1"/>
<line x1="1019" y1="124.5" x2="1024" y2="124.5" stroke="#000" stroke-width="1"/>
<text x="1028" y="128.5" font-size="16.5" fill="#000">30</text>
<line x1="62" y1="408.5" x2="1018" y2="408.5" stroke="#1f5a8a" stroke-width="1"/>
<line x1="96.5" y1="409" x2="96.5" y2="414" stroke="#000" stroke-width="1.3"/>
<line x1="130.5" y1="409" x2="130.5" y2="414" stroke="#000" stroke-width="1.3"/>
<line x1="164.5" y1="409" x2="164.5" y2="414" stroke="#000" stroke-width="1.3"/>
<line x1="199.5" y1="409" x2="199.5" y2="418" stroke="#000" stroke-width="1.3"/>
<line x1="233.5" y1="409" x2="233.5" y2="414" stroke="#000" stroke-width="1.3"/>
<line x1="267.5" y1="409" x2="267.5" y2="414" stroke="#000" stroke-width="1.3"/>
<line x1="301.5" y1="409" x2="301.5" y2="414" stroke="#000" stroke-width="1.3"/>
<line x1="335.5" y1="409" x2="335.5" y2="418" stroke="#000" stroke-width="1.3"/>
<line x1="369.5" y1="409" x2="369.5" y2="414" stroke="#000" stroke-width="1.3"/>
<line x1="403.5" y1="409" x2="403.5" y2="414" stroke="#000" stroke-width="1.3"/>
<line x1="438.5" y1="409" x2="438.5" y2="414" stroke="#000" stroke-width="1.3"/>
<line x1="472.5" y1="409" x2="472.5" y2="418" stroke="#000" stroke-width="1.3"/>
<line x1="506.5" y1="409" x2="506.5" y2="414" stroke="#000" stroke-width="1.3"/>
<line x1="540.5" y1="409" x2="540.5" y2="414" stroke="#000" stroke-width="1.3"/>
<line x1="574.5" y1="409" x2="574.5" y2="414" stroke="#000" stroke-width="1.3"/>
<line x1="608.5" y1="409" x2="608.5" y2="418" stroke="#000" stroke-width="1.3"/>
<line x1="642.5" y1="409" x2="642.5" y2="414" stroke="#000" stroke-width="1.3"/>
<line x1="677.5" y1="409" x2="677.5" y2="414" stroke="#000" stroke-width="1.3"/>
<line x1="711.5" y1="409" x2="711.5" y2="414" stroke="#000" stroke-width="1.3"/>
<line x1="745.5" y1="409" x2="745.5" y2="418" stroke="#000" stroke-width="1.3"/>
<line x1="779.5" y1="409" x2="779.5" y2="414" stroke="#000" stroke-width="1.3"/>
<line x1="813.5" y1="409" x2="813.5" y2="414" stroke="#000" stroke-width="1.3"/>
<line x1="847.5" y1="409" x2="847.5" y2="414" stroke="#000" stroke-width="1.3"/>
<line x1="882.5" y1="409" x2="882.5" y2="418" stroke="#000" stroke-width="1.3"/>
<line x1="916.5" y1="409" x2="916.5" y2="414" stroke="#000" stroke-width="1.3"/>
<line x1="950.5" y1="409" x2="950.5" y2="414" stroke="#000" stroke-width="1.3"/>
<line x1="984.5" y1="409" x2="984.5" y2="414" stroke="#000" stroke-width="1.3"/>
<text transform="translate(21,266.5) rotate(-90)" font-size="23" text-anchor="middle" textLength="219" lengthAdjust="spacingAndGlyphs" fill="#000">Wave Height - Metres</text>
<text transform="translate(1059.8,264) rotate(90)" font-size="22" text-anchor="middle" textLength="202" lengthAdjust="spacingAndGlyphs" fill="#000">Wind Speed - Knots</text>
<text x="105.3" y="434.6" font-size="16" textLength="46" lengthAdjust="spacingAndGlyphs" fill="#000">Friday</text>
<text x="232.6" y="434.6" font-size="16" font-weight="bold" textLength="69.5" lengthAdjust="spacingAndGlyphs" fill="#000">Saturday</text>
<text x="374.2" y="434.6" font-size="16" font-weight="bold" textLength="58" lengthAdjust="spacingAndGlyphs" fill="#000">Sunday</text>
<text x="508.2" y="434.6" font-size="16" textLength="58" lengthAdjust="spacingAndGlyphs" fill="#000">Monday</text>
<text x="643.4" y="434.6" font-size="16" textLength="62.7" lengthAdjust="spacingAndGlyphs" fill="#000">Tuesday</text>
<text x="766.7" y="434.6" font-size="16" textLength="86.6" lengthAdjust="spacingAndGlyphs" fill="#000">Wednesday</text>
<text x="914.1" y="434.6" font-size="16" textLength="68.7" lengthAdjust="spacingAndGlyphs" fill="#000">Thursday</text>
<text x="115.2" y="458.7" font-size="17.5" textLength="28.5" lengthAdjust="spacingAndGlyphs" fill="#808080">9th</text>
<text x="247.1" y="458.7" font-size="17.5" textLength="39" lengthAdjust="spacingAndGlyphs" fill="#808080">10th</text>
<text x="383.6" y="458.7" font-size="17.5" textLength="39.5" lengthAdjust="spacingAndGlyphs" fill="#808080">11th</text>
<text x="519.7" y="458.7" font-size="17.5" textLength="39" lengthAdjust="spacingAndGlyphs" fill="#808080">12th</text>
<text x="656.9" y="458.7" font-size="17.5" textLength="39" lengthAdjust="spacingAndGlyphs" fill="#808080">13th</text>
<text x="792.8" y="458.7" font-size="17.5" textLength="39" lengthAdjust="spacingAndGlyphs" fill="#808080">14th</text>
<text x="929.9" y="458.7" font-size="17.5" textLength="39" lengthAdjust="spacingAndGlyphs" fill="#808080">15th</text>
<text x="893" y="400.7" font-size="10.8" textLength="118" lengthAdjust="spacing" fill="#b0b0b0">www.seabreeze.com.au</text>
<polyline points="66.00,342.14 74.54,361.07 83.09,361.07 91.63,361.07 100.17,351.60 108.72,313.74 117.26,256.94 125.80,228.55 134.35,200.15 142.89,200.15 151.44,200.15 159.98,200.15 168.52,238.01 177.07,275.88 185.61,313.74 194.15,342.14 202.70,342.14 211.24,323.21 219.78,313.74 228.33,313.74 236.87,304.27 245.41,285.34 253.96,275.88 262.50,294.81 271.04,294.81 279.59,285.34 288.13,285.34 296.67,285.34 305.22,275.88 313.76,275.88 322.31,275.88 330.85,285.34 339.39,313.74 347.94,332.67 356.48,332.67 365.02,332.67 373.57,332.67 382.11,294.81 390.65,285.34 399.20,285.34 407.74,285.34 416.28,285.34 424.83,275.88 433.37,275.88 441.91,266.41 450.46,275.88 459.00,294.81 467.54,313.74 476.09,323.21 484.63,332.67 493.18,332.67 501.72,342.14 510.26,351.60 518.81,342.14 527.35,351.60 535.89,342.14 544.44,351.60 552.98,351.60 561.52,361.07 570.07,361.07 578.61,361.07 587.15,361.07 595.70,351.60 604.24,332.67 612.78,332.67 621.33,342.14 629.87,351.60 638.41,351.60 646.96,351.60 655.50,342.14 664.04,342.14 672.59,342.14 681.13,342.14 689.68,342.14 698.22,342.14 706.76,332.67 715.31,323.21 723.85,313.74 732.39,313.74 740.94,313.74 749.48,323.21 758.02,332.67 766.57,332.67 775.11,342.14 783.65,342.14 792.20,323.21 800.74,313.74 809.28,313.74 817.83,313.74 826.37,313.74 834.91,304.27 843.46,294.81 852.00,285.34 860.55,285.34 869.09,294.81 877.63,313.74 886.18,313.74 894.72,323.21 903.26,323.21 911.81,332.67 920.35,332.67 928.89,304.27 937.44,294.81 945.98,294.81 954.52,294.81 963.07,285.34 971.61,275.88 980.15,266.41 988.70,266.41 997.24,275.88 1005.78,285.34 1014.33,294.81" fill="none" stroke="#888" stroke-width="1"/>
<g filter="url(#sh)">
<polygon points="82.56,354.41 64.09,346.76 61.98,351.84 47.52,334.48 70.02,332.44 67.91,337.52 86.39,345.17" fill="#ff0000" stroke="#1a1a1a" stroke-width="0.9" stroke-linejoin="miter"/>
<polygon points="94.54,366.07 74.54,366.07 74.54,371.57 54.54,361.07 74.54,350.57 74.54,356.07 94.54,356.07" fill="#ff0000" stroke="#1a1a1a" stroke-width="0.9" stroke-linejoin="miter"/>
<polygon points="102.91,355.40 85.59,365.40 88.34,370.16 65.77,371.07 77.84,351.98 80.59,356.74 97.91,346.74" fill="#ff0000" stroke="#1a1a1a" stroke-width="0.9" stroke-linejoin="miter"/>
<polygon points="108.32,348.96 95.46,364.28 99.67,367.82 78.77,376.39 83.59,354.32 87.80,357.86 100.66,342.54" fill="#ff0000" stroke="#1a1a1a" stroke-width="0.9" stroke-linejoin="miter"/>
<polygon points="112.45,335.04 104.79,353.52 109.87,355.62 92.52,370.08 90.47,347.59 95.55,349.69 103.21,331.21" fill="#ff0000" stroke="#1a1a1a" stroke-width="0.9" stroke-linejoin="miter"/>
<polygon points="105.68,293.35 113.34,311.83 118.42,309.72 116.37,332.22 99.02,317.76 104.10,315.65 96.44,297.18" fill="#ff0000" stroke="#1a1a1a" stroke-width="0.9" stroke-linejoin="miter"/>
<polygon points="114.23,236.55 121.88,255.03 126.96,252.93 124.91,275.42 107.56,260.96 112.64,258.86 104.99,240.38" fill="#ffff00" stroke="#1a1a1a" stroke-width="0.9" stroke-linejoin="miter"/>
<polygon points="122.77,208.15 130.42,226.63 135.51,224.53 133.46,247.02 116.10,232.56 121.19,230.46 113.53,211.98" fill="#00ff00" stroke="#1a1a1a" stroke-width="0.9" stroke-linejoin="miter"/>
<polygon points="131.31,179.76 138.97,198.23 144.05,196.13 142.00,218.63 124.65,204.17 129.73,202.06 122.07,183.58" fill="#00ff00" stroke="#1a1a1a" stroke-width="0.9" stroke-linejoin="miter"/>
<polygon points="139.86,179.76 147.51,198.23 152.59,196.13 150.55,218.63 133.19,204.17 138.27,202.06 130.62,183.58" fill="#00ff00" stroke="#1a1a1a" stroke-width="0.9" stroke-linejoin="miter"/>
<polygon points="140.83,182.47 154.97,196.61 158.86,192.72 165.58,214.29 144.01,207.57 147.90,203.68 133.76,189.54" fill="#00ff00" stroke="#1a1a1a" stroke-width="0.9" stroke-linejoin="miter"/>
<polygon points="149.37,182.47 163.51,196.61 167.40,192.72 174.12,214.29 152.55,207.57 156.44,203.68 142.30,189.54" fill="#00ff00" stroke="#1a1a1a" stroke-width="0.9" stroke-linejoin="miter"/>
<polygon points="151.96,225.74 170.44,233.39 172.54,228.31 187.00,245.67 164.50,247.71 166.61,242.63 148.13,234.98" fill="#00ff00" stroke="#1a1a1a" stroke-width="0.9" stroke-linejoin="miter"/>
<polygon points="157.07,270.88 177.07,270.88 177.07,265.38 197.07,275.88 177.07,286.38 177.07,280.88 157.07,280.88" fill="#ffff00" stroke="#1a1a1a" stroke-width="0.9" stroke-linejoin="miter"/>
<polygon points="165.22,316.77 183.70,309.12 181.59,304.04 204.09,306.09 189.63,323.44 187.52,318.36 169.04,326.01" fill="#ff0000" stroke="#1a1a1a" stroke-width="0.9" stroke-linejoin="miter"/>
<polygon points="173.76,345.17 192.24,337.52 190.13,332.44 212.63,334.48 198.17,351.84 196.07,346.76 177.59,354.41" fill="#ff0000" stroke="#1a1a1a" stroke-width="0.9" stroke-linejoin="miter"/>
<polygon points="182.30,345.17 200.78,337.52 198.68,332.44 221.17,334.48 206.71,351.84 204.61,346.76 186.13,354.41" fill="#ff0000" stroke="#1a1a1a" stroke-width="0.9" stroke-linejoin="miter"/>
<polygon points="191.24,318.21 211.24,318.21 211.24,312.71 231.24,323.21 211.24,333.71 211.24,328.21 191.24,328.21" fill="#ff0000" stroke="#1a1a1a" stroke-width="0.9" stroke-linejoin="miter"/>
<polygon points="199.78,308.74 219.78,308.74 219.78,303.24 239.78,313.74 219.78,324.24 219.78,318.74 199.78,318.74" fill="#ff0000" stroke="#1a1a1a" stroke-width="0.9" stroke-linejoin="miter"/>
<polygon points="208.33,308.74 228.33,308.74 228.33,303.24 248.33,313.74 228.33,324.24 228.33,318.74 208.33,318.74" fill="#ff0000" stroke="#1a1a1a" stroke-width="0.9" stroke-linejoin="miter"/>
<polygon points="216.87,299.27 236.87,299.27 236.87,293.77 256.87,304.27 236.87,314.77 236.87,309.27 216.87,309.27" fill="#ff0000" stroke="#1a1a1a" stroke-width="0.9" stroke-linejoin="miter"/>
<polygon points="225.41,280.34 245.41,280.34 245.41,274.84 265.41,285.34 245.41,295.84 245.41,290.34 225.41,290.34" fill="#ffff00" stroke="#1a1a1a" stroke-width="0.9" stroke-linejoin="miter"/>
<polygon points="233.96,270.88 253.96,270.88 253.96,265.38 273.96,275.88 253.96,286.38 253.96,280.88 233.96,280.88" fill="#ffff00" stroke="#1a1a1a" stroke-width="0.9" stroke-linejoin="miter"/>
<polygon points="242.50,289.81 262.50,289.81 262.50,284.31 282.50,294.81 262.50,305.31 262.50,299.81 242.50,299.81" fill="#ffff00" stroke="#1a1a1a" stroke-width="0.9" stroke-linejoin="miter"/>
<polygon points="251.04,289.81 271.04,289.81 271.04,284.31 291.04,294.81 271.04,305.31 271.04,299.81 251.04,299.81" fill="#ffff00" stroke="#1a1a1a" stroke-width="0.9" stroke-linejoin="miter"/>
<polygon points="259.59,280.34 279.59,280.34 279.59,274.84 299.59,285.34 279.59,295.84 279.59,290.34 259.59,290.34" fill="#ffff00" stroke="#1a1a1a" stroke-width="0.9" stroke-linejoin="miter"/>
<polygon points="267.74,288.38 286.22,280.72 284.11,275.64 306.61,277.69 292.15,295.04 290.04,289.96 271.57,297.62" fill="#ffff00" stroke="#1a1a1a" stroke-width="0.9" stroke-linejoin="miter"/>
<polygon points="276.28,288.38 294.76,280.72 292.66,275.64 315.15,277.69 300.69,295.04 298.59,289.96 280.11,297.62" fill="#ffff00" stroke="#1a1a1a" stroke-width="0.9" stroke-linejoin="miter"/>
<polygon points="284.83,278.91 303.30,271.26 301.20,266.18 323.70,268.22 309.24,285.58 307.13,280.50 288.65,288.15" fill="#ffff00" stroke="#1a1a1a" stroke-width="0.9" stroke-linejoin="miter"/>
<polygon points="296.08,286.48 310.23,272.34 306.34,268.45 327.90,261.73 321.19,283.30 317.30,279.41 303.15,293.55" fill="#ffff00" stroke="#1a1a1a" stroke-width="0.9" stroke-linejoin="miter"/>
<polygon points="310.03,292.44 317.69,273.96 312.60,271.86 329.96,257.40 332.01,279.89 326.92,277.79 319.27,296.27" fill="#ffff00" stroke="#1a1a1a" stroke-width="0.9" stroke-linejoin="miter"/>
<polygon points="318.58,301.91 326.23,283.43 321.15,281.32 338.50,266.86 340.55,289.36 335.47,287.26 327.81,305.73" fill="#ffff00" stroke="#1a1a1a" stroke-width="0.9" stroke-linejoin="miter"/>
<polygon points="327.12,330.30 334.77,311.83 329.69,309.72 347.05,295.26 349.09,317.76 344.01,315.65 336.36,334.13" fill="#ff0000" stroke="#1a1a1a" stroke-width="0.9" stroke-linejoin="miter"/>
<polygon points="342.94,352.67 342.94,332.67 337.44,332.67 347.94,312.67 358.44,332.67 352.94,332.67 352.94,352.67" fill="#ff0000" stroke="#1a1a1a" stroke-width="0.9" stroke-linejoin="miter"/>
<polygon points="351.48,352.67 351.48,332.67 345.98,332.67 356.48,312.67 366.98,332.67 361.48,332.67 361.48,352.67" fill="#ff0000" stroke="#1a1a1a" stroke-width="0.9" stroke-linejoin="miter"/>
<polygon points="360.02,352.67 360.02,332.67 354.52,332.67 365.02,312.67 375.52,332.67 370.02,332.67 370.02,352.67" fill="#ff0000" stroke="#1a1a1a" stroke-width="0.9" stroke-linejoin="miter"/>
<polygon points="368.57,352.67 368.57,332.67 363.07,332.67 373.57,312.67 384.07,332.67 378.57,332.67 378.57,352.67" fill="#ff0000" stroke="#1a1a1a" stroke-width="0.9" stroke-linejoin="miter"/>
<polygon points="377.11,314.81 377.11,294.81 371.61,294.81 382.11,274.81 392.61,294.81 387.11,294.81 387.11,314.81" fill="#ffff00" stroke="#1a1a1a" stroke-width="0.9" stroke-linejoin="miter"/>
<polygon points="385.65,305.34 385.65,285.34 380.15,285.34 390.65,265.34 401.15,285.34 395.65,285.34 395.65,305.34" fill="#ffff00" stroke="#1a1a1a" stroke-width="0.9" stroke-linejoin="miter"/>
<polygon points="402.23,305.73 394.58,287.26 389.50,289.36 391.54,266.86 408.90,281.32 403.82,283.43 411.47,301.91" fill="#ffff00" stroke="#1a1a1a" stroke-width="0.9" stroke-linejoin="miter"/>
<polygon points="410.77,305.73 403.12,287.26 398.04,289.36 400.09,266.86 417.44,281.32 412.36,283.43 420.01,301.91" fill="#ffff00" stroke="#1a1a1a" stroke-width="0.9" stroke-linejoin="miter"/>
<polygon points="419.32,305.73 411.66,287.26 406.58,289.36 408.63,266.86 425.98,281.32 420.90,283.43 428.56,301.91" fill="#ffff00" stroke="#1a1a1a" stroke-width="0.9" stroke-linejoin="miter"/>
<polygon points="427.86,296.27 420.21,277.79 415.13,279.89 417.17,257.40 434.53,271.86 429.45,273.96 437.10,292.44" fill="#ffff00" stroke="#1a1a1a" stroke-width="0.9" stroke-linejoin="miter"/>
<polygon points="436.40,296.27 428.75,277.79 423.67,279.89 425.72,257.40 443.07,271.86 437.99,273.96 445.64,292.44" fill="#ffff00" stroke="#1a1a1a" stroke-width="0.9" stroke-linejoin="miter"/>
<polygon points="444.95,286.80 437.29,268.32 432.21,270.43 434.26,247.93 451.61,262.39 446.53,264.50 454.19,282.97" fill="#ffff00" stroke="#1a1a1a" stroke-width="0.9" stroke-linejoin="miter"/>
<polygon points="453.49,296.27 445.84,277.79 440.76,279.89 442.80,257.40 460.16,271.86 455.08,273.96 462.73,292.44" fill="#ffff00" stroke="#1a1a1a" stroke-width="0.9" stroke-linejoin="miter"/>
<polygon points="462.04,315.20 454.38,296.72 449.30,298.83 451.35,276.33 468.70,290.79 463.62,292.89 471.27,311.37" fill="#ffff00" stroke="#1a1a1a" stroke-width="0.9" stroke-linejoin="miter"/>
<polygon points="470.58,334.13 462.93,315.65 457.84,317.76 459.89,295.26 477.25,309.72 472.16,311.83 479.82,330.30" fill="#ff0000" stroke="#1a1a1a" stroke-width="0.9" stroke-linejoin="miter"/>
<polygon points="479.12,343.60 471.47,325.12 466.39,327.22 468.43,304.73 485.79,319.19 480.71,321.29 488.36,339.77" fill="#ff0000" stroke="#1a1a1a" stroke-width="0.9" stroke-linejoin="miter"/>
<polygon points="487.67,353.06 480.01,334.59 474.93,336.69 476.98,314.19 494.33,328.65 489.25,330.76 496.90,349.24" fill="#ff0000" stroke="#1a1a1a" stroke-width="0.9" stroke-linejoin="miter"/>
<polygon points="496.21,353.06 488.56,334.59 483.47,336.69 485.52,314.19 502.88,328.65 497.79,330.76 505.45,349.24" fill="#ff0000" stroke="#1a1a1a" stroke-width="0.9" stroke-linejoin="miter"/>
<polygon points="512.33,359.82 498.18,345.67 494.29,349.56 487.58,328.00 509.14,334.71 505.25,338.60 519.40,352.74" fill="#ff0000" stroke="#1a1a1a" stroke-width="0.9" stroke-linejoin="miter"/>
<polygon points="520.87,369.28 506.73,355.14 502.84,359.03 496.12,337.46 517.69,344.18 513.80,348.07 527.94,362.21" fill="#ff0000" stroke="#1a1a1a" stroke-width="0.9" stroke-linejoin="miter"/>
<polygon points="529.41,359.82 515.27,345.67 511.38,349.56 504.66,328.00 526.23,334.71 522.34,338.60 536.48,352.74" fill="#ff0000" stroke="#1a1a1a" stroke-width="0.9" stroke-linejoin="miter"/>
<polygon points="515.08,368.17 522.73,349.69 517.65,347.59 535.00,333.13 537.05,355.62 531.97,353.52 524.31,372.00" fill="#ff0000" stroke="#1a1a1a" stroke-width="0.9" stroke-linejoin="miter"/>
<polygon points="515.50,345.17 533.98,337.52 531.87,332.44 554.37,334.48 539.91,351.84 537.81,346.76 519.33,354.41" fill="#ff0000" stroke="#1a1a1a" stroke-width="0.9" stroke-linejoin="miter"/>
<polygon points="561.12,339.50 548.27,354.82 552.48,358.35 531.58,366.92 536.39,344.85 540.61,348.39 553.46,333.07" fill="#ff0000" stroke="#1a1a1a" stroke-width="0.9" stroke-linejoin="miter"/>
<polygon points="564.52,334.52 557.68,353.31 562.85,355.20 546.14,370.40 543.11,348.01 548.28,349.89 555.12,331.10" fill="#ff0000" stroke="#1a1a1a" stroke-width="0.9" stroke-linejoin="miter"/>
<polygon points="568.25,341.58 566.50,361.51 571.98,361.99 559.78,380.99 551.06,360.15 556.54,360.63 558.29,340.71" fill="#ff0000" stroke="#1a1a1a" stroke-width="0.9" stroke-linejoin="miter"/>
<polygon points="571.52,340.51 574.99,360.20 580.41,359.25 573.54,380.77 559.73,362.89 565.14,361.94 561.67,342.24" fill="#ff0000" stroke="#1a1a1a" stroke-width="0.9" stroke-linejoin="miter"/>
<polygon points="580.06,340.51 583.53,360.20 588.95,359.25 582.08,380.77 568.27,362.89 573.69,361.94 570.21,342.24" fill="#ff0000" stroke="#1a1a1a" stroke-width="0.9" stroke-linejoin="miter"/>
<polygon points="582.15,381.07 582.15,361.07 576.65,361.07 587.15,341.07 597.65,361.07 592.15,361.07 592.15,381.07" fill="#ff0000" stroke="#1a1a1a" stroke-width="0.9" stroke-linejoin="miter"/>
<polygon points="590.70,371.60 590.70,351.60 585.20,351.60 595.70,331.60 606.20,351.60 600.70,351.60 600.70,371.60" fill="#ff0000" stroke="#1a1a1a" stroke-width="0.9" stroke-linejoin="miter"/>
<polygon points="607.27,353.06 599.62,334.59 594.54,336.69 596.59,314.19 613.94,328.65 608.86,330.76 616.51,349.24" fill="#ff0000" stroke="#1a1a1a" stroke-width="0.9" stroke-linejoin="miter"/>
<polygon points="615.82,353.06 608.16,334.59 603.08,336.69 605.13,314.19 622.48,328.65 617.40,330.76 625.06,349.24" fill="#ff0000" stroke="#1a1a1a" stroke-width="0.9" stroke-linejoin="miter"/>
<polygon points="624.36,362.53 616.71,344.05 611.63,346.16 613.67,323.66 631.03,338.12 625.95,340.22 633.60,358.70" fill="#ff0000" stroke="#1a1a1a" stroke-width="0.9" stroke-linejoin="miter"/>
<polygon points="632.91,372.00 625.25,353.52 620.17,355.62 622.22,333.13 639.57,347.59 634.49,349.69 642.14,368.17" fill="#ff0000" stroke="#1a1a1a" stroke-width="0.9" stroke-linejoin="miter"/>
<polygon points="641.45,372.00 633.80,353.52 628.71,355.62 630.76,333.13 648.12,347.59 643.03,349.69 650.69,368.17" fill="#ff0000" stroke="#1a1a1a" stroke-width="0.9" stroke-linejoin="miter"/>
<polygon points="657.56,369.28 643.42,355.14 639.53,359.03 632.82,337.46 654.38,344.18 650.49,348.07 664.64,362.21" fill="#ff0000" stroke="#1a1a1a" stroke-width="0.9" stroke-linejoin="miter"/>
<polygon points="666.11,359.82 651.97,345.67 648.08,349.56 641.36,328.00 662.93,334.71 659.04,338.60 673.18,352.74" fill="#ff0000" stroke="#1a1a1a" stroke-width="0.9" stroke-linejoin="miter"/>
<polygon points="680.61,354.41 662.13,346.76 660.03,351.84 645.57,334.48 668.06,332.44 665.96,337.52 684.44,345.17" fill="#ff0000" stroke="#1a1a1a" stroke-width="0.9" stroke-linejoin="miter"/>
<polygon points="692.59,347.14 672.59,347.14 672.59,352.64 652.59,342.14 672.59,331.64 672.59,337.14 692.59,337.14" fill="#ff0000" stroke="#1a1a1a" stroke-width="0.9" stroke-linejoin="miter"/>
<polygon points="689.53,323.31 686.06,343.01 691.47,343.96 677.66,361.83 670.79,340.31 676.21,341.27 679.68,321.57" fill="#ff0000" stroke="#1a1a1a" stroke-width="0.9" stroke-linejoin="miter"/>
<polygon points="709.68,347.14 689.68,347.14 689.68,352.64 669.68,342.14 689.68,331.64 689.68,337.14 709.68,337.14" fill="#ff0000" stroke="#1a1a1a" stroke-width="0.9" stroke-linejoin="miter"/>
<polygon points="677.83,345.17 696.31,337.52 694.20,332.44 716.70,334.48 702.24,351.84 700.13,346.76 681.65,354.41" fill="#ff0000" stroke="#1a1a1a" stroke-width="0.9" stroke-linejoin="miter"/>
<polygon points="686.94,338.34 704.26,328.34 701.51,323.58 724.08,322.67 712.01,341.77 709.26,337.00 691.94,347.00" fill="#ff0000" stroke="#1a1a1a" stroke-width="0.9" stroke-linejoin="miter"/>
<polygon points="697.63,333.81 711.77,319.67 707.88,315.78 729.45,309.06 722.73,330.63 718.84,326.74 704.70,340.88" fill="#ff0000" stroke="#1a1a1a" stroke-width="0.9" stroke-linejoin="miter"/>
<polygon points="707.16,325.85 720.02,310.53 715.81,306.99 736.71,298.42 731.89,320.49 727.68,316.95 714.82,332.27" fill="#ff0000" stroke="#1a1a1a" stroke-width="0.9" stroke-linejoin="miter"/>
<polygon points="727.39,333.74 727.39,313.74 721.89,313.74 732.39,293.74 742.89,313.74 737.39,313.74 737.39,333.74" fill="#ff0000" stroke="#1a1a1a" stroke-width="0.9" stroke-linejoin="miter"/>
<polygon points="735.94,333.74 735.94,313.74 730.44,313.74 740.94,293.74 751.44,313.74 745.94,313.74 745.94,333.74" fill="#ff0000" stroke="#1a1a1a" stroke-width="0.9" stroke-linejoin="miter"/>
<polygon points="744.48,343.21 744.48,323.21 738.98,323.21 749.48,303.21 759.98,323.21 754.48,323.21 754.48,343.21" fill="#ff0000" stroke="#1a1a1a" stroke-width="0.9" stroke-linejoin="miter"/>
<polygon points="753.02,352.67 753.02,332.67 747.52,332.67 758.02,312.67 768.52,332.67 763.02,332.67 763.02,352.67" fill="#ff0000" stroke="#1a1a1a" stroke-width="0.9" stroke-linejoin="miter"/>
<polygon points="761.57,352.67 761.57,332.67 756.07,332.67 766.57,312.67 777.07,332.67 771.57,332.67 771.57,352.67" fill="#ff0000" stroke="#1a1a1a" stroke-width="0.9" stroke-linejoin="miter"/>
<polygon points="770.11,362.14 770.11,342.14 764.61,342.14 775.11,322.14 785.61,342.14 780.11,342.14 780.11,362.14" fill="#ff0000" stroke="#1a1a1a" stroke-width="0.9" stroke-linejoin="miter"/>
<polygon points="778.65,362.14 778.65,342.14 773.15,342.14 783.65,322.14 794.15,342.14 788.65,342.14 788.65,362.14" fill="#ff0000" stroke="#1a1a1a" stroke-width="0.9" stroke-linejoin="miter"/>
<polygon points="787.20,343.21 787.20,323.21 781.70,323.21 792.20,303.21 802.70,323.21 797.20,323.21 797.20,343.21" fill="#ff0000" stroke="#1a1a1a" stroke-width="0.9" stroke-linejoin="miter"/>
<polygon points="795.74,333.74 795.74,313.74 790.24,313.74 800.74,293.74 811.24,313.74 805.74,313.74 805.74,333.74" fill="#ff0000" stroke="#1a1a1a" stroke-width="0.9" stroke-linejoin="miter"/>
<polygon points="804.28,333.74 804.28,313.74 798.78,313.74 809.28,293.74 819.78,313.74 814.28,313.74 814.28,333.74" fill="#ff0000" stroke="#1a1a1a" stroke-width="0.9" stroke-linejoin="miter"/>
<polygon points="812.83,333.74 812.83,313.74 807.33,313.74 817.83,293.74 828.33,313.74 822.83,313.74 822.83,333.74" fill="#ff0000" stroke="#1a1a1a" stroke-width="0.9" stroke-linejoin="miter"/>
<polygon points="814.10,330.30 821.75,311.83 816.67,309.72 834.03,295.26 836.07,317.76 830.99,315.65 823.34,334.13" fill="#ff0000" stroke="#1a1a1a" stroke-width="0.9" stroke-linejoin="miter"/>
<polygon points="822.64,320.84 830.30,302.36 825.21,300.26 842.57,285.80 844.62,308.29 839.53,306.19 831.88,324.67" fill="#ff0000" stroke="#1a1a1a" stroke-width="0.9" stroke-linejoin="miter"/>
<polygon points="831.19,311.37 838.84,292.89 833.76,290.79 851.11,276.33 853.16,298.83 848.08,296.72 840.42,315.20" fill="#ffff00" stroke="#1a1a1a" stroke-width="0.9" stroke-linejoin="miter"/>
<polygon points="847.00,305.34 847.00,285.34 841.50,285.34 852.00,265.34 862.50,285.34 857.00,285.34 857.00,305.34" fill="#ffff00" stroke="#1a1a1a" stroke-width="0.9" stroke-linejoin="miter"/>
<polygon points="855.55,305.34 855.55,285.34 850.05,285.34 860.55,265.34 871.05,285.34 865.55,285.34 865.55,305.34" fill="#ffff00" stroke="#1a1a1a" stroke-width="0.9" stroke-linejoin="miter"/>
<polygon points="864.09,314.81 864.09,294.81 858.59,294.81 869.09,274.81 879.59,294.81 874.09,294.81 874.09,314.81" fill="#ffff00" stroke="#1a1a1a" stroke-width="0.9" stroke-linejoin="miter"/>
<polygon points="872.63,333.74 872.63,313.74 867.13,313.74 877.63,293.74 888.13,313.74 882.63,313.74 882.63,333.74" fill="#ff0000" stroke="#1a1a1a" stroke-width="0.9" stroke-linejoin="miter"/>
<polygon points="881.18,333.74 881.18,313.74 875.68,313.74 886.18,293.74 896.68,313.74 891.18,313.74 891.18,333.74" fill="#ff0000" stroke="#1a1a1a" stroke-width="0.9" stroke-linejoin="miter"/>
<polygon points="889.72,343.21 889.72,323.21 884.22,323.21 894.72,303.21 905.22,323.21 899.72,323.21 899.72,343.21" fill="#ff0000" stroke="#1a1a1a" stroke-width="0.9" stroke-linejoin="miter"/>
<polygon points="898.26,343.21 898.26,323.21 892.76,323.21 903.26,303.21 913.76,323.21 908.26,323.21 908.26,343.21" fill="#ff0000" stroke="#1a1a1a" stroke-width="0.9" stroke-linejoin="miter"/>
<polygon points="906.81,352.67 906.81,332.67 901.31,332.67 911.81,312.67 922.31,332.67 916.81,332.67 916.81,352.67" fill="#ff0000" stroke="#1a1a1a" stroke-width="0.9" stroke-linejoin="miter"/>
<polygon points="915.35,352.67 915.35,332.67 909.85,332.67 920.35,312.67 930.85,332.67 925.35,332.67 925.35,352.67" fill="#ff0000" stroke="#1a1a1a" stroke-width="0.9" stroke-linejoin="miter"/>
<polygon points="923.89,324.27 923.89,304.27 918.39,304.27 928.89,284.27 939.39,304.27 933.89,304.27 933.89,324.27" fill="#ff0000" stroke="#1a1a1a" stroke-width="0.9" stroke-linejoin="miter"/>
<polygon points="932.44,314.81 932.44,294.81 926.94,294.81 937.44,274.81 947.94,294.81 942.44,294.81 942.44,314.81" fill="#ffff00" stroke="#1a1a1a" stroke-width="0.9" stroke-linejoin="miter"/>
<polygon points="940.98,314.81 940.98,294.81 935.48,294.81 945.98,274.81 956.48,294.81 950.98,294.81 950.98,314.81" fill="#ffff00" stroke="#1a1a1a" stroke-width="0.9" stroke-linejoin="miter"/>
<polygon points="949.52,314.81 949.52,294.81 944.02,294.81 954.52,274.81 965.02,294.81 959.52,294.81 959.52,314.81" fill="#ffff00" stroke="#1a1a1a" stroke-width="0.9" stroke-linejoin="miter"/>
<polygon points="958.07,305.34 958.07,285.34 952.57,285.34 963.07,265.34 973.57,285.34 968.07,285.34 968.07,305.34" fill="#ffff00" stroke="#1a1a1a" stroke-width="0.9" stroke-linejoin="miter"/>
<polygon points="966.61,295.88 966.61,275.88 961.11,275.88 971.61,255.88 982.11,275.88 976.61,275.88 976.61,295.88" fill="#ffff00" stroke="#1a1a1a" stroke-width="0.9" stroke-linejoin="miter"/>
<polygon points="975.15,286.41 975.15,266.41 969.65,266.41 980.15,246.41 990.65,266.41 985.15,266.41 985.15,286.41" fill="#ffff00" stroke="#1a1a1a" stroke-width="0.9" stroke-linejoin="miter"/>
<polygon points="983.70,286.41 983.70,266.41 978.20,266.41 988.70,246.41 999.20,266.41 993.70,266.41 993.70,286.41" fill="#ffff00" stroke="#1a1a1a" stroke-width="0.9" stroke-linejoin="miter"/>
<polygon points="992.24,295.88 992.24,275.88 986.74,275.88 997.24,255.88 1007.74,275.88 1002.24,275.88 1002.24,295.88" fill="#ffff00" stroke="#1a1a1a" stroke-width="0.9" stroke-linejoin="miter"/>
<polygon points="1000.78,305.34 1000.78,285.34 995.28,285.34 1005.78,265.34 1016.28,285.34 1010.78,285.34 1010.78,305.34" fill="#ffff00" stroke="#1a1a1a" stroke-width="0.9" stroke-linejoin="miter"/>
<polygon points="1009.33,314.81 1009.33,294.81 1003.83,294.81 1014.33,274.81 1024.83,294.81 1019.33,294.81 1019.33,314.81" fill="#ffff00" stroke="#1a1a1a" stroke-width="0.9" stroke-linejoin="miter"/>
</g>
</svg></body></html>
